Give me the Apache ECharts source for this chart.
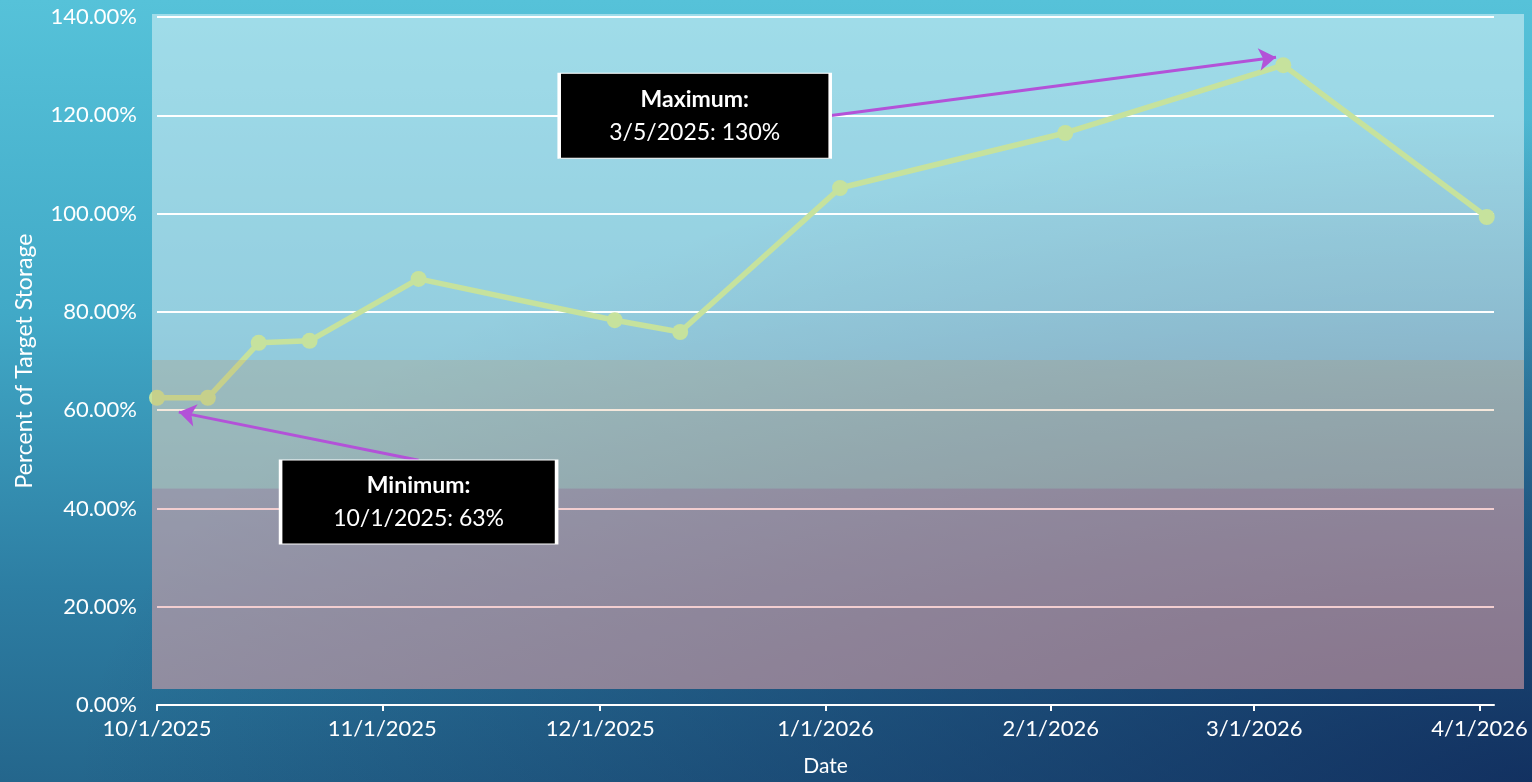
<!DOCTYPE html>
<html>
<head>
<meta charset="utf-8">
<script src="https://cdn.jsdelivr.net/npm/echarts@6/dist/echarts.min.js"></script>
<style>
  html, body {
    margin: 0;
    padding: 0;
    overflow: hidden;
  }
  body {
    width: 1532px;
    height: 782px;
    background:
      radial-gradient(ellipse 95% 85% at 100% 100%, rgba(14, 36, 86, 0.8), rgba(14, 36, 86, 0) 100%),
      linear-gradient(to bottom, #56c2d9 0%, #41a9c7 40%, #2d7ea3 75%, #24668c 100%);
  }
  #chart {
    width: 1532px;
    height: 782px;
  }
</style>
</head>
<body>
<div id="chart"></div>
<script>
  // measured storage, percent of target
  const dates = ['2025-10-01', '2025-10-08', '2025-10-15', '2025-10-22', '2025-11-06', '2025-12-03',
    '2025-12-12', '2026-01-03', '2026-02-03', '2026-03-05', '2026-04-02'];
  const pctValues = [62.5, 62.5, 73.7, 74.1, 86.7, 78.3, 75.9, 105.2, 116.4, 130.2, 99.3];

  // shaded condition bands (percent), bottom to top
  const bandEdges = [3.3, 44.1, 70.2, 140.6];

  const yTicks = [0, 20, 40, 60, 80, 100, 120, 140];
  const axisRange = ['2025-10-01', '2026-04-03'];

  const noteTitles = ['Maximum:', 'Minimum:'];
  const noteTexts = ['3/5/2025: 130%', '10/1/2025: 63%'];

  const FONT = 'Lato';
  const toTime = s => new Date(s + 'T00:00:00').getTime();
  const fmtDate = v => {
    const d = new Date(v);
    return (d.getMonth() + 1) + '/' + d.getDate() + '/' + d.getFullYear();
  };

  const seriesData = dates.map((d, i) => [toTime(d), pctValues[i]]);

  const noteLabel = i => ({
    show: true,
    position: 'inside',
    formatter: '{t|' + noteTitles[i] + '}\n{v|' + noteTexts[i] + '}',
    rich: {
      t: { color: '#fff', fontFamily: FONT, fontWeight: 'bold', fontSize: 23, lineHeight: 33 },
      v: { color: '#fff', fontFamily: FONT, fontSize: 23, lineHeight: 33 }
    }
  });

  const chart = echarts.init(document.getElementById('chart'));
  chart.setOption({
    animation: false,
    backgroundColor: 'transparent',
    textStyle: { fontFamily: FONT },
    grid: [
      { left: 157, right: 38, top: 17, bottom: 77 },
      {
        left: 152, right: 8, top: 14, bottom: 93, show: true, z: 0,
        backgroundColor: 'rgba(255,255,255,0.44)', borderWidth: 0
      }
    ],
    xAxis: [
      {
        type: 'time',
        gridIndex: 0,
        z: 1,
        min: toTime(axisRange[0]),
        max: toTime(axisRange[1]),
        splitNumber: 6,
        name: 'Date',
        nameLocation: 'middle',
        nameGap: 51,
        nameTextStyle: { color: '#fff', fontSize: 21, fontFamily: FONT },
        axisLine: { lineStyle: { color: '#fff', width: 2 } },
        axisTick: { show: true, length: 6, lineStyle: { color: '#fff', width: 2 } },
        axisLabel: {
          color: '#fff', fontSize: 22, margin: 13, fontFamily: FONT,
          formatter: v => fmtDate(v)
        },
        splitLine: { show: false }
      },
      { type: 'value', gridIndex: 1, min: 0, max: 1, show: false }
    ],
    yAxis: [
      {
        type: 'value',
        gridIndex: 0,
        z: 1,
        min: yTicks[0],
        max: yTicks[yTicks.length - 1],
        interval: yTicks[1] - yTicks[0],
        name: 'Percent of Target Storage',
        nameLocation: 'middle',
        nameGap: 121,
        nameTextStyle: { color: '#fff', fontSize: 23, fontFamily: FONT },
        axisLine: { show: false },
        axisTick: { show: false },
        axisLabel: {
          color: '#fff', fontSize: 22, margin: 20, fontFamily: FONT,
          formatter: v => v.toFixed(2) + '%'
        },
        splitLine: { lineStyle: { color: '#ffffff', width: 2 } }
      },
      {
        type: 'value', gridIndex: 1, show: false,
        min: bandEdges[0], max: bandEdges[bandEdges.length - 1]
      }
    ],
    series: [
      {
        type: 'line',
        z: 2,
        data: seriesData,
        symbol: 'circle',
        symbolSize: 16,
        lineStyle: { color: '#c6e29d', width: 5.5 },
        itemStyle: { color: '#c6e29d' },
        silent: true
      },
      {
        // condition bands over the plot panel
        type: 'line',
        xAxisIndex: 1,
        yAxisIndex: 1,
        data: [],
        silent: true,
        markArea: {
          z: 3,
          silent: true,
          data: [
            [{ yAxis: bandEdges[0], itemStyle: { color: 'rgba(190,10,20,0.2)' } }, { yAxis: bandEdges[1] }],
            [{ yAxis: bandEdges[1], itemStyle: { color: 'rgba(200,125,60,0.18)' } }, { yAxis: bandEdges[2] }]
          ]
        }
      },
      {
        // callouts
        type: 'line',
        data: [],
        silent: true,
        markLine: {
          z: 5,
          silent: true,
          symbol: ['none', 'arrow'],
          symbolSize: 17,
          label: { show: false },
          lineStyle: { color: '#b352d8', width: 3, type: 'solid' },
          data: [
            [{ coord: [toTime('2026-01-01'), 119.8] }, { coord: [toTime('2026-03-04'), 131.8] }],
            [{ coord: [toTime('2025-11-06'), 49.8] }, { coord: [toTime('2025-10-04'), 59.6] }]
          ]
        },
        markPoint: {
          z: 6,
          silent: true,
          data: [
            {
              coord: [toTime('2025-12-14'), 119.9],
              symbol: 'rect', symbolSize: [271, 85],
              itemStyle: { color: '#000', borderColor: '#fff', borderWidth: 2 },
              label: noteLabel(0)
            },
            {
              coord: [toTime('2025-11-06'), 41.3],
              symbol: 'rect', symbolSize: [276, 84],
              itemStyle: { color: '#000', borderColor: '#fff', borderWidth: 2 },
              label: noteLabel(1)
            }
          ]
        }
      }
    ]
  });
</script>
</body>
</html>
